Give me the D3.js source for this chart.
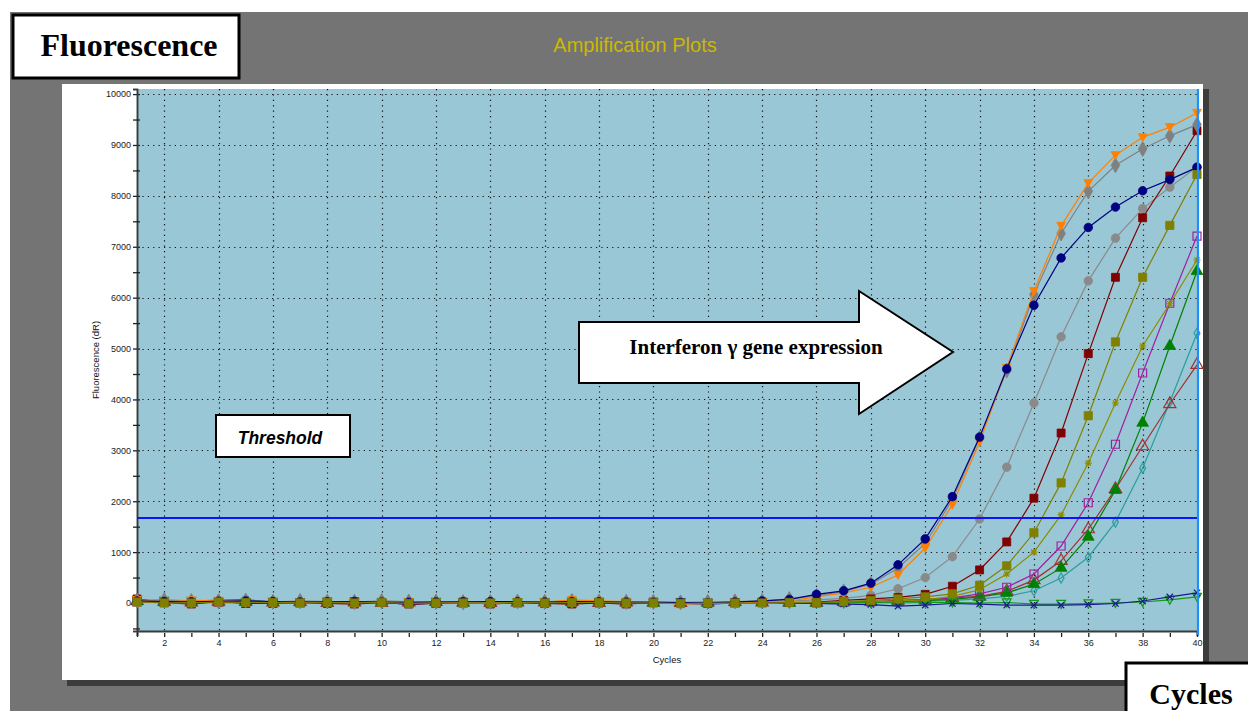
<!DOCTYPE html>
<html>
<head>
<meta charset="utf-8">
<script src="https://cdn.jsdelivr.net/npm/d3@7"></script>
<style>
  html, body { margin: 0; padding: 0; background: #ffffff; }
  svg { display: block; }
</style>
</head>
<body>
<svg id="chart" width="1248" height="711"></svg>
<script>
// Cycle numbers on the x axis
const cycles = [1,2,3,4,5,6,7,8,9,10,11,12,13,14,15,16,17,18,19,20,
                21,22,23,24,25,26,27,28,29,30,31,32,33,34,35,36,37,38,39,40];

// Fluorescence (dR) per cycle, one array per well
const navyCircle   = [40,30,25,35,40,30,20,25,30,20,15,20,25,30,25,20,30,25,20,15,10,5,20,40,70,
                      170,240,390,750,1260,2090,3260,4600,5850,6780,7380,7780,8100,8320,8560];
const orangeTri    = [60,20,50,40,30,20,10,20,15,25,20,10,5,-10,15,20,60,40,30,10,-20,-10,0,20,40,
                      120,200,310,550,1080,1930,3160,4620,6130,7410,8250,8800,9150,9350,9630];
const grayDiamond  = [50,60,40,30,50,20,40,30,20,40,30,20,10,20,30,20,40,30,20,20,10,20,30,40,80,
                      140,230,370,690,1170,2030,3240,4570,6060,7260,8090,8600,8920,9180,9400];
const grayCircle   = [30,40,20,30,40,30,20,30,20,30,20,10,20,20,10,20,30,20,30,20,10,20,20,30,40,
                      60,90,150,280,500,910,1650,2670,3930,5230,6330,7170,7750,8170,8570];
const redSquare    = [80,10,-20,30,-10,0,10,-10,-20,10,-20,-10,20,-20,10,-10,-20,0,-20,10,0,-10,10,20,10,
                      20,50,80,110,170,330,650,1200,2060,3340,4900,6400,7570,8390,9280];
const oliveSquare  = [20,0,0,20,10,10,0,10,0,10,-10,0,0,0,10,0,10,10,0,0,-10,0,0,0,10,
                      10,30,50,80,120,180,350,730,1380,2360,3680,5130,6400,7420,8420];
const oliveStar    = [30,20,10,20,20,10,10,20,10,10,0,10,20,10,10,0,20,10,10,0,0,0,10,10,0,
                      0,10,20,40,60,130,260,570,1000,1730,2750,3930,5050,5880,6740];
const magentaSq    = [20,10,0,10,0,-10,0,20,30,10,0,-10,0,-10,0,10,0,10,0,20,10,0,0,10,10,
                      0,10,20,30,60,100,180,310,570,1120,1970,3120,4520,5890,7210];
const greenTri     = [30,40,20,10,30,20,10,10,20,30,10,20,0,10,20,20,10,20,10,0,10,0,10,20,0,
                      0,10,20,30,45,70,120,200,370,690,1300,2220,3540,5050,6520];
const brownTri     = [40,20,10,30,20,10,20,0,10,0,10,20,10,0,10,10,20,0,10,10,0,10,20,10,10,
                      10,20,30,50,70,100,130,230,450,830,1450,2240,3080,3910,4680];
const tealDiamond  = [20,30,20,10,20,10,0,10,20,10,0,10,20,0,10,10,0,10,20,10,0,0,10,0,0,
                      0,5,10,20,30,50,80,130,240,490,900,1590,2650,3950,5300];
const navyX        = [30,20,40,50,60,20,10,0,10,20,-30,0,10,0,10,-10,0,10,0,0,-10,-20,0,10,0,
                      -10,-20,-30,-60,-40,-10,-20,-40,-40,-40,-30,-10,40,120,200];
const greenOpenTri = [50,40,30,20,10,20,10,20,10,0,10,20,10,0,10,10,20,10,0,0,10,0,0,10,0,
                      0,0,10,0,10,10,0,10,-20,-20,-10,0,20,60,120];

// Threshold level and axis ticks
const thresholdValue = 1670;
const yTickValues = [0,1000,2000,3000,4000,5000,6000,7000,8000,9000,10000];
const xTickLabels = [2,4,6,8,10,12,14,16,18,20,22,24,26,28,30,32,34,36,38,40];

// Drawing order: first listed is painted first
const series = [
  { name: "tealDiamond",  values: tealDiamond,  color: "#2a9d9d", symbol: "diamond",  fill: false, size: 30 },
  { name: "brownTri",     values: brownTri,     color: "#a33030", symbol: "triangle", fill: false, size: 64 },
  { name: "greenTri",     values: greenTri,     color: "#008000", symbol: "triangle", fill: true,  size: 60 },
  { name: "magentaSq",    values: magentaSq,    color: "#a020a0", symbol: "square",   fill: false, size: 64 },
  { name: "oliveStar",    values: oliveStar,    color: "#8c8c00", symbol: "asterisk", fill: false, size: 50 },
  { name: "greenOpenTri", values: greenOpenTri, color: "#119911", symbol: "triDown",  fill: false, size: 64 },
  { name: "navyX",        values: navyX,        color: "#1a1a90", symbol: "times",    fill: false, size: 40 },
  { name: "grayCircle",   values: grayCircle,   color: "#8a8a8a", symbol: "circle",   fill: true,  size: 72 },
  { name: "redSquare",    values: redSquare,    color: "#800000", symbol: "square",   fill: true,  size: 64 },
  { name: "grayDiamond",  values: grayDiamond,  color: "#808080", symbol: "diamond",  fill: true,  size: 64 },
  { name: "orangeTri",    values: orangeTri,    color: "#ff8000", symbol: "triDown",  fill: true,  size: 64 },
  { name: "navyCircle",   values: navyCircle,   color: "#000080", symbol: "circle",   fill: true,  size: 72 },
  { name: "oliveSquare",  values: oliveSquare,  color: "#808000", symbol: "square",   fill: true,  size: 68 }
];

const svg = d3.select("#chart");

// Page background and frame
svg.append("rect").attr("x", 0).attr("y", 0).attr("width", 1248).attr("height", 711).attr("fill", "#ffffff");
svg.append("rect").attr("x", 10).attr("y", 12).attr("width", 1238).attr("height", 699).attr("fill", "#747474");
svg.append("rect").attr("x", 1203).attr("y", 89).attr("width", 6).attr("height", 597).attr("fill", "#3c3c3c");
svg.append("rect").attr("x", 67).attr("y", 680).attr("width", 1142).attr("height", 6).attr("fill", "#3c3c3c");
svg.append("rect").attr("x", 62).attr("y", 84).attr("width", 1141).attr("height", 596).attr("fill", "#ffffff");

svg.append("text")
  .attr("x", 635).attr("y", 52)
  .attr("text-anchor", "middle")
  .attr("font-family", "Liberation Sans, Arial, sans-serif")
  .attr("font-size", 20)
  .attr("fill", "#cdb800")
  .text("Amplification Plots");

// Plot area
const x = d3.scaleLinear().domain([1, 40]).range([137, 1197]);
const y = d3.scaleLinear().domain([-550, 10100]).range([631, 89]);
const plotLeft = 137, plotRight = 1199, plotTop = 89, plotBottom = 631;

svg.append("rect")
  .attr("x", plotLeft).attr("y", plotTop)
  .attr("width", plotRight - plotLeft).attr("height", plotBottom - plotTop)
  .attr("fill", "#9ac7d6");

// Dotted grid
const grid = svg.append("g").attr("stroke", "#111").attr("stroke-width", 1.2).attr("stroke-dasharray", "1.2,4.2");
grid.selectAll("line.h").data(yTickValues.filter(v => v > 0)).join("line")
  .attr("class", "h")
  .attr("x1", plotLeft).attr("x2", plotRight)
  .attr("y1", d => Math.round(y(d)) + 0.5).attr("y2", d => Math.round(y(d)) + 0.5);
grid.selectAll("line.v").data(xTickLabels.slice(0, -1)).join("line")
  .attr("class", "v")
  .attr("x1", d => Math.round(x(d)) + 0.5).attr("x2", d => Math.round(x(d)) + 0.5)
  .attr("y1", plotTop).attr("y2", plotBottom);

// Axes
const yAxis = d3.axisLeft(y).tickValues(yTickValues).tickSize(4).tickPadding(2).tickFormat(d3.format("d"));
const yMinor = d3.axisLeft(y).tickValues([-500,500,1500,2500,3500,4500,5500,6500,7500,8500,9500]).tickSize(4).tickFormat("");
const gy = svg.append("g").attr("transform", `translate(${plotLeft},0)`).call(yAxis);
const gyMinor = svg.append("g").attr("transform", `translate(${plotLeft},0)`).call(yMinor);
const xAxis = d3.axisBottom(x).tickValues(cycles).tickSize(5).tickPadding(4)
  .tickFormat(d => xTickLabels.includes(d) ? d : "");
const gx = svg.append("g").attr("transform", `translate(0,${plotBottom})`).call(xAxis);

[gy, gyMinor, gx].forEach(g => {
  g.select(".domain").attr("stroke", "#3a3a3a").attr("stroke-width", 1.5);
  g.selectAll(".tick line").attr("stroke", "#222").attr("stroke-width", 1.3);
  g.selectAll(".tick text").attr("font-family", "Liberation Sans, Arial, sans-serif").attr("font-size", 9).attr("fill", "#222");
});
gy.selectAll(".tick line").attr("x2", 3).attr("x1", -4);
gyMinor.selectAll(".tick line").attr("x2", 3).attr("x1", -4);
gx.selectAll(".tick line").attr("y1", 2).attr("y2", 6);
gx.select(".domain").attr("stroke-width", 2);

svg.append("text")
  .attr("transform", `translate(99,${(plotTop + plotBottom) / 2}) rotate(-90)`)
  .attr("text-anchor", "middle")
  .attr("font-family", "Liberation Sans, Arial, sans-serif")
  .attr("font-size", 9.5).attr("fill", "#111")
  .text("Fluorescence (dR)");
svg.append("text")
  .attr("x", 667).attr("y", 663)
  .attr("text-anchor", "middle")
  .attr("font-family", "Liberation Sans, Arial, sans-serif")
  .attr("font-size", 9.5).attr("fill", "#111")
  .text("Cycles");

// Marker shapes
function markerPath(kind, size) {
  const r = Math.sqrt(size) / 2;
  switch (kind) {
    case "circle":   return d3.symbol(d3.symbolCircle, size * 0.8)();
    case "square":   return d3.symbol(d3.symbolSquare, size)();
    case "diamond":  return d3.symbol(d3.symbolDiamond, size)();
    case "triangle": return d3.symbol(d3.symbolTriangle, size)();
    case "triDown":  return `M${-r * 1.1},${-r * 0.9}L${r * 1.1},${-r * 0.9}L0,${r * 1.1}Z`;
    case "times":    return `M${-r},${-r}L${r},${r}M${-r},${r}L${r},${-r}`;
    case "asterisk": return `M0,${-r}L0,${r}M${-r},0L${r},0M${-r * 0.75},${-r * 0.75}L${r * 0.75},${r * 0.75}M${-r * 0.75},${r * 0.75}L${r * 0.75},${-r * 0.75}`;
  }
  return d3.symbol(d3.symbolCircle, size)();
}

const line = d3.line().x((d, i) => x(cycles[i])).y(d => y(d));
const plot = svg.append("g");
series.forEach(s => {
  const g = plot.append("g");
  g.append("path")
    .attr("d", line(s.values))
    .attr("fill", "none")
    .attr("stroke", s.color)
    .attr("stroke-width", 1.2);
  g.selectAll("path.m").data(s.values).join("path")
    .attr("class", "m")
    .attr("transform", (d, i) => `translate(${x(cycles[i])},${y(d)})`)
    .attr("d", markerPath(s.symbol, s.size))
    .attr("fill", s.fill ? s.color : "none")
    .attr("stroke", s.color)
    .attr("stroke-width", s.fill ? 0.8 : 1.2);
});

// Threshold line and end-of-run marker
svg.append("line")
  .attr("x1", plotLeft).attr("x2", plotRight)
  .attr("y1", y(thresholdValue)).attr("y2", y(thresholdValue))
  .attr("stroke", "#0a14ff").attr("stroke-width", 2.2);
svg.append("line")
  .attr("x1", x(40) + 1).attr("x2", x(40) + 1)
  .attr("y1", plotTop).attr("y2", plotBottom + 4)
  .attr("stroke", "#1e8fff").attr("stroke-width", 2.2);

// Annotations
svg.append("rect").attr("x", 216).attr("y", 415).attr("width", 134).attr("height", 42)
  .attr("fill", "#fff").attr("stroke", "#000").attr("stroke-width", 2);
svg.append("text")
  .attr("x", 280).attr("y", 444)
  .attr("text-anchor", "middle")
  .attr("font-family", "Liberation Sans, Arial, sans-serif")
  .attr("font-size", 17.5).attr("font-weight", "bold").attr("font-style", "italic")
  .text("Threshold");

svg.append("path")
  .attr("d", "M579,322L859,322L859,291L953,352L859,414L859,383L579,383Z")
  .attr("fill", "#fff").attr("stroke", "#000").attr("stroke-width", 2).attr("stroke-linejoin", "miter");
svg.append("text")
  .attr("x", 756).attr("y", 354)
  .attr("text-anchor", "middle")
  .attr("font-family", "Liberation Serif, Times New Roman, serif")
  .attr("font-size", 21).attr("font-weight", "bold")
  .text("Interferon γ gene expression");

svg.append("rect").attr("x", 13).attr("y", 15).attr("width", 226).attr("height", 63)
  .attr("fill", "#fff").attr("stroke", "#000").attr("stroke-width", 3);
svg.append("text")
  .attr("x", 129).attr("y", 56)
  .attr("text-anchor", "middle")
  .attr("font-family", "Liberation Serif, Times New Roman, serif")
  .attr("font-size", 32).attr("font-weight", "bold")
  .text("Fluorescence");

svg.append("rect").attr("x", 1126).attr("y", 663).attr("width", 130).attr("height", 60)
  .attr("fill", "#fff").attr("stroke", "#000").attr("stroke-width", 3);
svg.append("text")
  .attr("x", 1191).attr("y", 704)
  .attr("text-anchor", "middle")
  .attr("font-family", "Liberation Serif, Times New Roman, serif")
  .attr("font-size", 30).attr("font-weight", "bold")
  .text("Cycles");
</script>
</body>
</html>
